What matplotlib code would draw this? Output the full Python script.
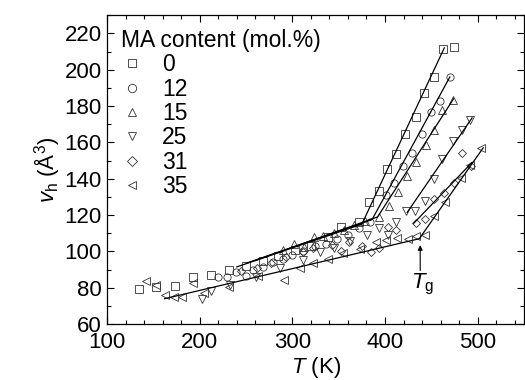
import matplotlib
matplotlib.use("Agg")
import matplotlib.pyplot as plt
from matplotlib.ticker import MultipleLocator

plt.rcParams['font.family'] = ['Liberation Sans', 'DejaVu Sans']
plt.rcParams['mathtext.fontset'] = 'custom'
plt.rcParams['mathtext.rm'] = 'Liberation Sans'
plt.rcParams['mathtext.it'] = 'Liberation Sans:italic'

# MA content series (mol.%), T in K, hole volume v_h in A^3
labels = ['0', '12', '15', '25', '31', '35']
markers = ['s', 'o', '^', 'v', 'D', '<']

T0 = [134, 153, 173, 193, 212, 232, 250, 268, 285, 303, 320, 338, 352, 372,
      383, 393, 402, 412, 422, 433, 442, 453, 463, 474]
v0 = [79.6, 80.5, 81, 85.7, 87, 89.7, 92, 95, 97.5, 101, 103, 108, 113.5, 116.3,
      127, 133.4, 145.3, 153.6, 164.5, 173.8, 187.3, 196, 211.5, 212.6]

T12 = [220, 229, 239, 250, 257, 268, 279, 290, 300, 312, 324, 336, 348, 360,
       372, 384, 401, 410, 419, 429, 440, 450, 459, 470]
v12 = [86, 85.7, 88.8, 86.4, 89.7, 91.5, 94.3, 96, 98, 100.5, 103, 104, 107, 109,
       113, 116, 131, 137.8, 147, 154, 164.6, 176.5, 183, 196]

T15 = [290, 302, 313, 323, 333, 345, 356, 367, 378, 393, 404, 414, 424, 433,
       444, 453, 462, 473]
v15 = [101, 104, 102.5, 108, 108.4, 110, 112, 114.5, 117, 118.7, 125, 132.5,
       141.5, 149, 158.5, 167, 178, 183.3]

T25 = [202, 212, 233, 261, 287, 311, 330, 345, 362, 381, 394, 403, 412, 423,
       432, 443, 453, 462, 473, 483, 492]
v25 = [74, 78.5, 81.5, 86, 91, 95.2, 99.5, 102, 106, 109, 112.7, 109, 116.3,
       122.4, 122, 128, 140, 150.8, 160.6, 166.8, 172.6]

T31 = [245, 262, 277, 293, 311, 322, 343, 352, 361, 375, 385, 394, 403, 412,
       433, 443, 453, 464, 474, 483, 493]
v31 = [89, 91, 93.5, 97, 99.8, 101.7, 103.5, 100, 105.3, 103, 99.8, 101.7,
       113.5, 111.7, 115.7, 118, 128.6, 132, 137.4, 154, 147]

T35 = [142, 153, 162, 172, 181, 193, 205, 232, 263, 291, 308, 322, 338, 355,
       373, 390, 401, 413, 425, 433, 443, 453, 465, 482, 492, 504]
v35 = [83.8, 81.8, 76, 75.2, 74.8, 82.4, 77, 80.5, 86.4, 84.2, 91, 93.4, 96, 99,
       101.5, 105.3, 106.2, 107.2, 107, 108.6, 109, 119.5, 127.3, 140.2, 147.3, 156.7]

Ts = [T0, T12, T15, T25, T31, T35]
vs = [v0, v12, v15, v25, v31, v35]

# linear fits below and above Tg (end points)
fit_T = [[240, 375, 464], [250, 386, 470], [260, 392, 474],
         [424, 494], [431, 494], [162, 437, 506]]
fit_v = [[91.5, 115, 212], [93.5, 117.5, 196], [95, 119, 184],
         [121.5, 173.5], [115.5, 149], [74, 107, 157]]

fig = plt.figure(figsize=(5.25, 3.8), dpi=100)
ax = fig.add_axes([0.204, 0.147, 0.794, 0.813])

for T, v, m, lab in zip(Ts, vs, markers, labels):
    ms = 4.5 if m == 'D' else 5.2
    ax.plot(T, v, ls='none', marker=m, ms=ms, mfc='none', mec='#333333',
            mew=0.6, label=lab)
for T, v in zip(fit_T, fit_v):
    ax.plot(T, v, color='black', lw=0.9)

ax.annotate('', xy=(438, 105), xytext=(438, 88),
            arrowprops=dict(arrowstyle='-|>', lw=0.8, color='black',
                            mutation_scale=7))
ax.text(441, 82, r'$\it{T}_\mathrm{g}$', fontsize=16, ha='center', va='center')

ax.set_xlim(100, 550)
ax.set_ylim(60, 230)
ax.xaxis.set_major_locator(MultipleLocator(100))
ax.xaxis.set_minor_locator(MultipleLocator(20))
ax.yaxis.set_major_locator(MultipleLocator(20))
ax.yaxis.set_minor_locator(MultipleLocator(10))
ax.tick_params(which='both', direction='in', top=True, right=True,
               labelsize=16, width=0.8)
ax.tick_params(which='major', length=5)
ax.tick_params(axis='y', which='major', pad=4)
ax.tick_params(axis='x', which='major', pad=6)
ax.tick_params(which='minor', length=3)
for s in ax.spines.values():
    s.set_linewidth(0.9)

ax.set_xlabel(r'$\it{T}$ (K)', fontsize=16, labelpad=1)
ax.set_ylabel(r'$\it{v}_\mathrm{h}$ (Å$^3$)', fontsize=16, labelpad=2)

leg = ax.legend(title='MA content (mol.%)', loc='upper left', frameon=False,
                fontsize=16.5, title_fontsize=16.5, handlelength=1.0,
                handletextpad=0.8, labelspacing=0.06, borderaxespad=0.2,
                bbox_to_anchor=(0.0, 1.0), markerscale=1.15)
leg._legend_box.align = 'left'

fig.savefig('out.png', dpi=100)
